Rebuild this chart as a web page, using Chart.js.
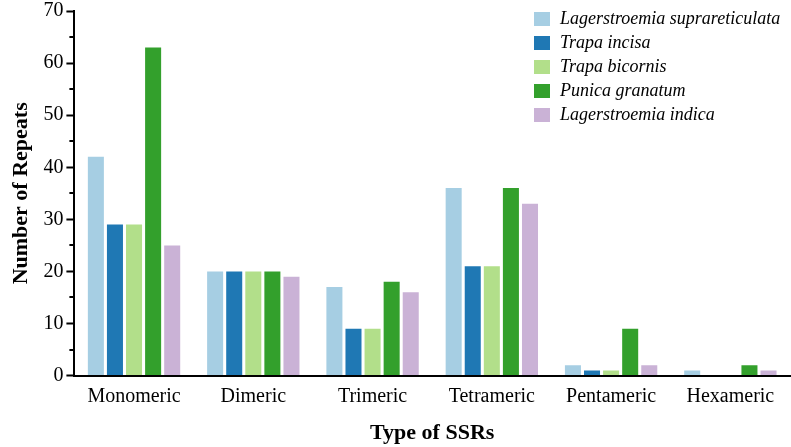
<!DOCTYPE html>
<html>
<head>
<meta charset="utf-8">
<script src="https://cdn.jsdelivr.net/npm/chart.js@4.4.0/dist/chart.umd.min.js"></script>
<style>
html,body{margin:0;padding:0;background:#fff;}
#wrap{width:791px;height:447px;position:relative;}
</style>
</head>
<body>
<div id="wrap"><canvas id="c" width="791" height="447"></canvas></div>
<script>
const categories = ["Monomeric","Dimeric","Trimeric","Tetrameric","Pentameric","Hexameric"];
const seriesNames = ["Lagerstroemia suprareticulata","Trapa incisa","Trapa bicornis","Punica granatum","Lagerstroemia indica"];
const lagerstroemiaSuprareticulata = [42,20,17,36,2,1];
const trapaIncisa = [29,20,9,21,1,0];
const trapaBicornis = [29,20,9,21,1,0];
const punicaGranatum = [63,20,18,36,9,2];
const lagerstroemiaIndica = [25,19,16,33,2,1];
const yTicks = [0,10,20,30,40,50,60,70];
const colors = ["#a6cee3","#1f78b4","#b2df8a","#33a02c","#cab2d6"];

const seriesValues = [lagerstroemiaSuprareticulata, trapaIncisa, trapaBicornis, punicaGranatum, lagerstroemiaIndica];
const FONT = "'Liberation Serif','Times New Roman',serif";

const minorTicks = {
  id:'minorTicks',
  afterDraw(chart){
    const y = chart.scales.y, ctx = chart.ctx;
    const x0 = chart.chartArea.left;
    ctx.save();
    ctx.strokeStyle = '#000';
    ctx.lineWidth = 2;
    for (let v = 5; v < 70; v += 10) {
      const py = Math.round(y.getPixelForValue(v));
      ctx.beginPath();
      ctx.moveTo(x0, py);
      ctx.lineTo(x0 - 5, py);
      ctx.stroke();
    }
    ctx.restore();
  }
};

const innerLegend = {
  id:'innerLegend',
  afterDraw(chart){
    const ctx = chart.ctx;
    ctx.save();
    ctx.font = "italic 18px " + FONT;
    ctx.textBaseline = 'middle';
    ctx.textAlign = 'left';
    chart.data.datasets.forEach((ds, i) => {
      const yy = 19 + i * 24;
      ctx.fillStyle = ds.backgroundColor;
      ctx.fillRect(534, yy - 7, 16, 14);
      ctx.fillStyle = '#000';
      ctx.fillText(ds.label, 560, yy);
    });
    ctx.restore();
  }
};

new Chart(document.getElementById('c'), {
  type: 'bar',
  data: {
    labels: categories,
    datasets: seriesNames.map((n, i) => ({
      label: n,
      data: seriesValues[i],
      backgroundColor: colors[i],
      borderWidth: 0,
      barPercentage: 0.84,
      categoryPercentage: 0.80
    }))
  },
  options: {
    responsive: false,
    animation: false,
    devicePixelRatio: 1,
    layout: { padding: { top: 3, right: 1, left: 6, bottom: 0 } },
    plugins: { legend: { display: false }, tooltip: { enabled: false } },
    scales: {
      x: {
        grid: { display: false, drawTicks: false },
        border: { display: true, color: '#000', width: 2 },
        ticks: { color: '#000', font: { family: FONT, size: 20 }, padding: 9 },
        title: { display: true, text: 'Type of SSRs', color: '#000', font: { family: FONT, size: 22, weight: 'bold' }, padding: { top: 3, bottom: 0 } }
      },
      y: {
        min: 0, max: 70,
        afterBuildTicks(scale){ scale.ticks = yTicks.map(v => ({ value: v })); },
        grid: { display: true, drawOnChartArea: false, drawTicks: true, tickLength: 8, tickWidth: 2, tickColor: '#000' },
        border: { display: true, color: '#000', width: 2 },
        ticks: { color: '#000', font: { family: FONT, size: 20, lineHeight: 0.8 }, padding: 3 },
        title: { display: true, text: 'Number of Repeats', color: '#000', font: { family: FONT, size: 22, weight: 'bold' }, padding: { top: 2, bottom: 6 } }
      }
    }
  },
  plugins: [minorTicks, innerLegend]
});
</script>
</body>
</html>
